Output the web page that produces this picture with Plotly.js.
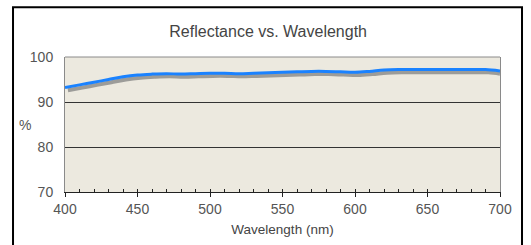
<!DOCTYPE html>
<html>
<head>
<meta charset="utf-8">
<script src="https://cdn.plot.ly/plotly-3.0.1.min.js"></script>
<style>
html,body{margin:0;padding:0;background:#fff;}
#chart{width:531px;height:245px;}
</style>
</head>
<body>
<div id="chart"></div>
<script>
// Wavelength (nm)
const wavelengths = [400,410,420,430,440,450,460,470,480,490,500,510,520,530,540,550,560,570,580,590,600,610,620,630,640,650,660,670,680,690,700];
// Reflectance (%) - blue curve
const reflectance = [93.2,93.8,94.4,95.0,95.6,96.0,96.2,96.3,96.2,96.3,96.4,96.4,96.3,96.4,96.5,96.6,96.7,96.8,96.8,96.7,96.6,96.8,97.1,97.2,97.2,97.2,97.2,97.2,97.2,97.2,96.9];
// Gray shadow curve under the blue one
const shadowX = [402,412,422,432,442,452,462,472,482,492,502,512,522,532,542,552,562,572,582,592,602,612,622,632,642,652,662,672,682,692,700];
const shadow = [92.6,93.2,93.8,94.4,95.0,95.4,95.6,95.7,95.6,95.7,95.8,95.8,95.7,95.8,95.9,96.0,96.1,96.2,96.2,96.1,96.0,96.2,96.5,96.6,96.6,96.6,96.6,96.6,96.6,96.6,96.3];
const xTicks = [400,450,500,550,600,650,700];
const yTicks = [70,80,90,100];

const font = "Liberation Sans, Arial, Helvetica, sans-serif";

const traces = [
  {x: shadowX, y: shadow, type: 'scatter', mode: 'lines', line: {color: 'rgba(130,130,130,0.75)', width: 4, shape: 'spline'}, hoverinfo: 'skip', showlegend: false},
  {x: wavelengths, y: reflectance, type: 'scatter', mode: 'lines', line: {color: '#1a82ff', width: 3, shape: 'spline'}, showlegend: false},
  {x: [400, 700], y: [70, 70], xaxis: 'x2', type: 'scatter', mode: 'lines', line: {width: 0}, hoverinfo: 'skip', showlegend: false}
];

const layout = {
  width: 531, height: 245,
  margin: {l: 65, r: 31, t: 57, b: 53},
  paper_bgcolor: '#ffffff',
  plot_bgcolor: '#ece9df',
  font: {family: font, color: '#555', size: 14},
  title: {text: 'Reflectance vs. Wavelength', x: 0.505, xref: 'container', xanchor: 'center', y: 0.87, yanchor: 'middle', font: {family: font, size: 16, color: '#444'}},
  xaxis: {
    range: [400, 700], tickvals: xTicks, ticktext: xTicks.map(String),
    ticks: 'outside', ticklen: 4, tickcolor: '#222', tickwidth: 1,
    showline: true, linecolor: '#222', linewidth: 1,
    showgrid: false, zeroline: false,
    tickfont: {family: font, size: 14, color: '#555'},
    title: {text: 'Wavelength (nm)', font: {family: font, size: 13.5, color: '#444'}, standoff: 8}
  },
  xaxis2: {
    overlaying: 'x', range: [400, 700], dtick: 10, tick0: 400,
    ticks: 'inside', ticklen: 3, tickcolor: '#222', showticklabels: false,
    showgrid: false, zeroline: false, showline: false, anchor: 'y', side: 'bottom'
  },
  yaxis: {
    range: [70, 100], tickvals: yTicks, ticktext: yTicks.map(String),
    showgrid: true, gridcolor: '#333', gridwidth: 1,
    showline: true, linecolor: '#8a8a8a', linewidth: 1, mirror: true,
    ticks: '', zeroline: false, ticklabelstandoff: 8,
    tickfont: {family: font, size: 14, color: '#555'}
  },
  shapes: [
    {type: 'line', xref: 'paper', yref: 'paper', x0: 0, x1: 1, y0: 1, y1: 1, line: {color: '#8a8a8a', width: 1}, layer: 'above'},
    {type: 'rect', xref: 'paper', yref: 'paper', x0: -0.1195, x1: 1.0506, y0: -0.5, y1: 1.368, line: {color: '#000', width: 2}, fillcolor: 'rgba(0,0,0,0)', layer: 'below'}
  ],
  annotations: [
    {text: '%', xref: 'paper', yref: 'paper', x: -0.092, y: 0.5, xanchor: 'center', yanchor: 'middle', showarrow: false, font: {family: font, size: 14, color: '#555'}}
  ]
};

Plotly.newPlot('chart', traces, layout, {displayModeBar: false, staticPlot: true});
</script>
</body>
</html>
